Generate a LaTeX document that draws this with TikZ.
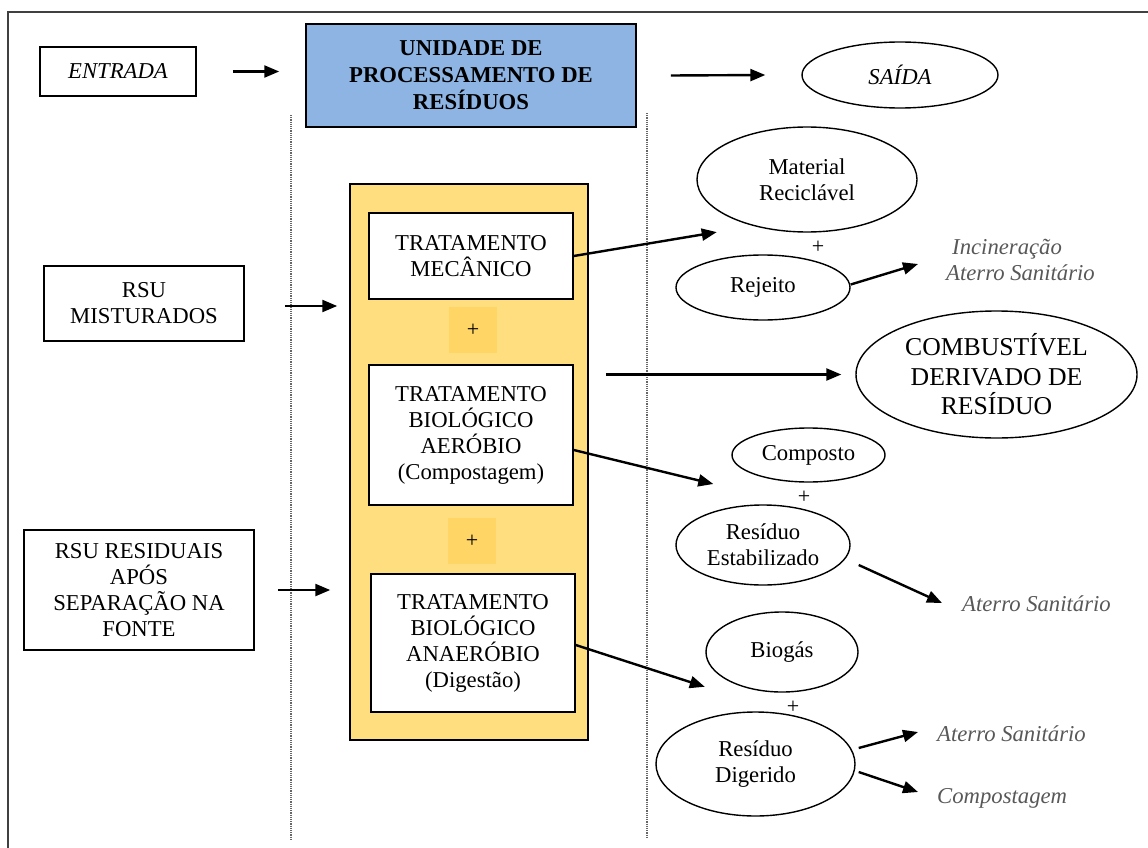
\documentclass[tikz,border=0pt]{standalone}
\usepackage{fontspec}
\setmainfont{Liberation Serif}
\usetikzlibrary{shapes.geometric,calc,arrows.meta}
\definecolor{azul}{RGB}{141,180,226}
\definecolor{amarelo}{RGB}{255,222,128}
\definecolor{amareloesc}{RGB}{255,214,102}
\definecolor{cinza}{RGB}{88,88,88}
\newcommand{\letra}{\fontsize{22.7}{26}\selectfont}
\begin{document}
\begin{tikzpicture}[x=1pt,y=-1pt,
    caixa/.style={draw,line width=1.5pt,align=center,inner sep=0pt,font=\letra},
    elipse/.style={draw,ellipse,line width=1.4pt,align=center,inner sep=0pt,font=\letra},
    destino/.style={anchor=west,inner sep=0pt,align=left,text=cinza,font=\letra\itshape},
    mais/.style={inner sep=0pt,font=\fontsize{22}{24}\selectfont},
    seta/.style={-{Triangle[length=15pt,width=12pt]},line width=2.4pt}]
    \useasboundingbox (0,0) rectangle (1148,848);
    % moldura
    \draw[line width=1.8pt,black!75] (8,848) -- (8,12) -- (1148,12);
    \draw[densely dotted,line width=1.2pt,black!60] (291,115) -- (291,840);
    \draw[densely dotted,line width=1.2pt,black!60] (647,113) -- (647,838);
    % linha de cima
    \node[caixa,minimum width=156,minimum height=49,font=\letra\itshape] (entrada) at (118,71.5) {ENTRADA};
    \node[caixa,fill=azul,minimum width=330,minimum height=103,font=\letra\bfseries] (unidade) at (471,75.5)
        {UNIDADE DE\\[1pt]PROCESSAMENTO DE\\[1pt]RESÍDUOS};
    \node[elipse,minimum width=196,minimum height=66,font=\letra\itshape] (saida) at (900,75) {SAÍDA};
    \draw[seta] ($(entrada.east)+(36,0)$) -- ($(unidade.west |- entrada.east)+(-26,0)$);
    \draw[seta] ($(unidade.east)+(34,0)$) -- ($(saida.west)+(-36,0)$);
    % entradas
    \node[caixa,minimum width=200,minimum height=75] (mist) at (144,303.5) {RSU\\MISTURADOS};
    \node[caixa,minimum width=230,minimum height=120] (resid) at (139,590)
        {RSU RESIDUAIS\\APÓS\\SEPARAÇÃO NA\\FONTE};
    % bloco de tratamentos
    \node[draw,line width=1.5pt,fill=amarelo,minimum width=238,minimum height=556] (bloco) at (469,462) {};
    \node[caixa,fill=white,minimum width=204,minimum height=86] (mec) at (471,256) {TRATAMENTO\\MECÂNICO};
    \node[fill=amareloesc,minimum width=48,minimum height=46,mais] (mais1) at (473,330) {+};
    \node[caixa,fill=white,minimum width=204,minimum height=140] (aer) at (471,435)
        {TRATAMENTO\\BIOLÓGICO\\AERÓBIO\\(Compostagem)};
    \node[fill=amareloesc,minimum width=48,minimum height=46,mais] (mais2) at (472,541) {+};
    \node[caixa,fill=white,minimum width=204,minimum height=138] (ana) at (473,643)
        {TRATAMENTO\\BIOLÓGICO\\ANAERÓBIO\\(Digestão)};
    \draw[seta] ($(mist.east)+(40,2.5)$) -- ($(bloco.west |- mist.east)+(-12,2.5)$);
    \draw[seta] ($(resid.east)+(23,0)$) -- ($(bloco.west |- resid.east)+(-19,0)$);
    % saidas
    \node[elipse,minimum width=220,minimum height=105] (matrec) at (807,179.5) {Material\\Reciclável};
    \node[mais] (p1) at (818,247) {+};
    \node[elipse,minimum width=174,minimum height=65] (rejeito) at (763,287.5) {Rejeito};
    \node[destino] (destrej) at (946,259.5) {\hspace{6pt}Incineração\\Aterro Sanitário};
    \node[elipse,minimum width=281,minimum height=127,font=\fontsize{25.7}{29.5}\selectfont] (cdr) at (996.5,374.5)
        {COMBUSTÍVEL\\DERIVADO DE\\RESÍDUO};
    \node[elipse,minimum width=153,minimum height=54] (composto) at (808.5,455) {Composto};
    \node[mais] (p2) at (804,497) {+};
    \node[elipse,minimum width=174,minimum height=80] (estab) at (763,545) {Resíduo\\Estabilizado};
    \node[destino] (destestab) at (962,604) {Aterro Sanitário};
    \node[elipse,minimum width=152,minimum height=80] (biogas) at (782,652) {Biogás};
    \node[mais] (p3) at (793,707) {+};
    \node[elipse,minimum width=199,minimum height=104] (digerido) at (755.5,764) {Resíduo\\Digerido};
    \node[destino] (aterro) at (937,734) {Aterro Sanitário};
    \node[destino] (compost) at (937,798) {Compostagem};
    % setas de saida
    \draw[seta] (mec.east) -- ($(matrec.south west)+(-12,15)$);
    \draw[seta] ($(rejeito.east)+(0,-3)$) -- ($(destrej.west)+(-28,4.5)$);
    \draw[seta] ($(bloco.east |- cdr.west)+(17,0)$) -- ($(cdr.west)+(-14,0)$);
    \draw[seta] ($(aer.east)+(0,15)$) -- ($(composto.west)+(-18,29)$);
    \draw[seta] ($(estab.east)+(8,20)$) -- ($(destestab.west)+(-20,-1)$);
    \draw[seta] ($(ana.east)+(0,2)$) -- ($(biogas.south west)+(-23,6)$);
    \draw[seta] ($(digerido.east)+(3,-16)$) -- ($(aterro.west)+(-19,-2)$);
    \draw[seta] ($(digerido.east)+(3,8)$) -- ($(compost.west)+(-19,-6)$);
\end{tikzpicture}
\end{document}
